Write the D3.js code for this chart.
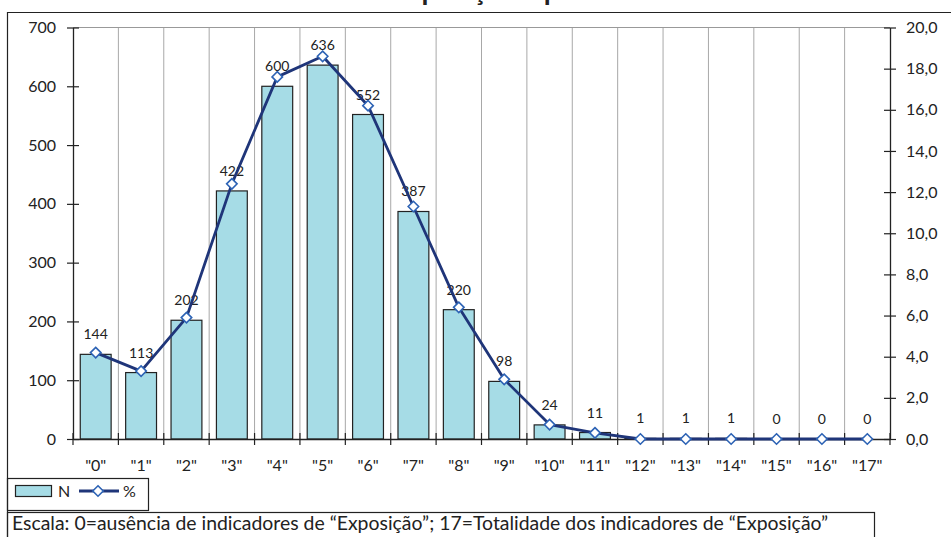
<!DOCTYPE html>
<html><head><meta charset="utf-8">
<script src="https://cdn.jsdelivr.net/npm/d3@7/dist/d3.min.js"></script>
<style>body{margin:0;background:#fff}svg{display:block}</style>
</head><body>
<svg id="c" width="951" height="537"></svg>
<script>
const categories = ['"0"','"1"','"2"','"3"','"4"','"5"','"6"','"7"','"8"','"9"','"10"','"11"','"12"','"13"','"14"','"15"','"16"','"17"'];
const nValues = [144,113,202,422,600,636,552,387,220,98,24,11,1,1,1,0,0,0];
const pctValues = [4.2,3.3,5.9,12.4,17.6,18.6,16.2,11.3,6.4,2.9,0.7,0.3,0.0,0.0,0.0,0.0,0.0,0.0];
const leftTicks = [0,100,200,300,400,500,600,700];
const rightTicks = [0,2,4,6,8,10,12,14,16,18,20];
const titleText = "Exposição – pontos";
const noteText = "Escala: 0=ausência de indicadores de “Exposição”; 17=Totalidade dos indicadores de “Exposição”";

const svg = d3.select("#c");
const FONT = "Lato, 'Noto Sans', sans-serif";
const L = 73, R = 890, T = 27.5, B = 439;

const x = d3.scaleBand().domain(categories).range([L, R]).padding(0);
const yL = d3.scaleLinear().domain([0, 700]).range([B, T]);
const yR = d3.scaleLinear().domain([0, 20]).range([B, T]);

// outer frame
svg.append("path").attr("d", "M7.5,537 V12.5 H951").attr("fill","none").attr("stroke","#222").attr("stroke-width",1.2);

// title (mostly cut off at the top, as in the source)
svg.append("text").attr("x", 391).attr("y", 0).attr("font-family","'Liberation Sans', Arial, sans-serif")
  .attr("font-weight","bold").attr("font-size",25).attr("fill","#222").text(titleText);

// vertical grid lines at category boundaries
const bounds = categories.slice(1).map(c => x(c));
svg.append("g").selectAll("line").data(bounds).join("line")
  .attr("x1", d => d).attr("x2", d => d).attr("y1", T).attr("y2", B)
  .attr("stroke", "#a8a8a8").attr("stroke-width", 1);
svg.append("line").attr("x1", L).attr("x2", R).attr("y1", yL(700)).attr("y2", yL(700)).attr("stroke","#999").attr("stroke-width",1.2);

// bars
const bw = x.bandwidth() * 0.68;
svg.append("g").selectAll("rect").data(nValues).join("rect")
  .attr("x", (d,i) => x(categories[i]) + (x.bandwidth()-bw)/2)
  .attr("y", d => yL(d)).attr("width", bw).attr("height", d => B - yL(d))
  .attr("fill", "#a6dce6").attr("stroke", "#222").attr("stroke-width", 1.2);

// bar labels
svg.append("g").selectAll("text").data(nValues).join("text")
  .attr("x", (d,i) => x(categories[i]) + x.bandwidth()/2)
  .attr("y", d => yL(d) - 15)
  .attr("text-anchor","middle").attr("font-family",FONT).attr("font-size",14).attr("fill","#222")
  .text(d => d);

// axes
const axL = svg.append("g").attr("transform", `translate(${L},0)`)
  .call(d3.axisLeft(yL).tickValues(leftTicks).tickSize(6).tickSizeOuter(0).tickPadding(11));
axL.selectAll(".tick line").attr("x2", 6).attr("x1", -6);
const axR = svg.append("g").attr("transform", `translate(${R},0)`)
  .call(d3.axisRight(yR).tickValues(rightTicks).tickSize(6).tickSizeOuter(0).tickPadding(10)
    .tickFormat(d => d.toFixed(1).replace(".", ",")));
axR.selectAll(".tick line").attr("x1", -6).attr("x2", 6);
const axB = svg.append("g").attr("transform", `translate(0,${B})`)
  .call(d3.axisBottom(x).tickSize(0).tickSizeOuter(0).tickPadding(21));
axB.selectAll(".tick line").remove();
svg.append("g").selectAll("line").data([L, ...bounds, R]).join("line")
  .attr("x1", d => d).attr("x2", d => d).attr("y1", B - 6).attr("y2", B + 6)
  .attr("stroke", "#222").attr("stroke-width", 1.2);
[axL, axR, axB].forEach(a => {
  a.selectAll("path.domain").attr("stroke","#222").attr("stroke-width",1.3);
  a.selectAll(".tick line").attr("stroke","#222").attr("stroke-width",1.2);
  a.selectAll("text").attr("font-family",FONT).attr("font-size",16).attr("fill","#222");
});

// line + markers
const cx = (d,i) => x(categories[i]) + x.bandwidth()/2;
const line = d3.line().x(cx).y(d => yR(d));
svg.append("path").datum(pctValues).attr("d", line).attr("fill","none")
  .attr("stroke","#1f3579").attr("stroke-width",2.8).attr("stroke-linejoin","round");
const diamond = d3.symbol().type(d3.symbolDiamond2).size(70);
svg.append("g").selectAll("path").data(pctValues).join("path")
  .attr("d", diamond)
  .attr("transform", (d,i) => `translate(${cx(d,i)},${yR(d)})`)
  .attr("fill","#fff").attr("stroke","#2d63b5").attr("stroke-width",1.6);

// legend box
svg.append("rect").attr("x",7.5).attr("y",478.5).attr("width",141).attr("height",32)
  .attr("fill","none").attr("stroke","#222").attr("stroke-width",1.2);
svg.append("rect").attr("x",15.5).attr("y",485.5).attr("width",36).attr("height",11)
  .attr("fill","#a6dce6").attr("stroke","#222").attr("stroke-width",1.2);
svg.append("text").attr("x",58).attr("y",497).attr("font-family",FONT).attr("font-size",16).attr("fill","#222").text("N");
svg.append("line").attr("x1",79).attr("x2",119).attr("y1",491).attr("y2",491).attr("stroke","#1f3579").attr("stroke-width",2.8);
svg.append("path").attr("d", diamond).attr("transform","translate(98,491)")
  .attr("fill","#fff").attr("stroke","#2d63b5").attr("stroke-width",1.6);
svg.append("text").attr("x",123).attr("y",497).attr("font-family",FONT).attr("font-size",16).attr("fill","#222").text("%");

// note box
svg.append("rect").attr("x",7.5).attr("y",512.5).attr("width",867).attr("height",30)
  .attr("fill","none").attr("stroke","#222").attr("stroke-width",1.2);
const note = svg.append("text").attr("x",12).attr("y",530).attr("font-family",FONT).attr("font-size",16).attr("fill","#222").text(noteText);
const w = note.node().getComputedTextLength();
note.attr("font-size", 16 * 817 / w);
</script>
</body></html>
